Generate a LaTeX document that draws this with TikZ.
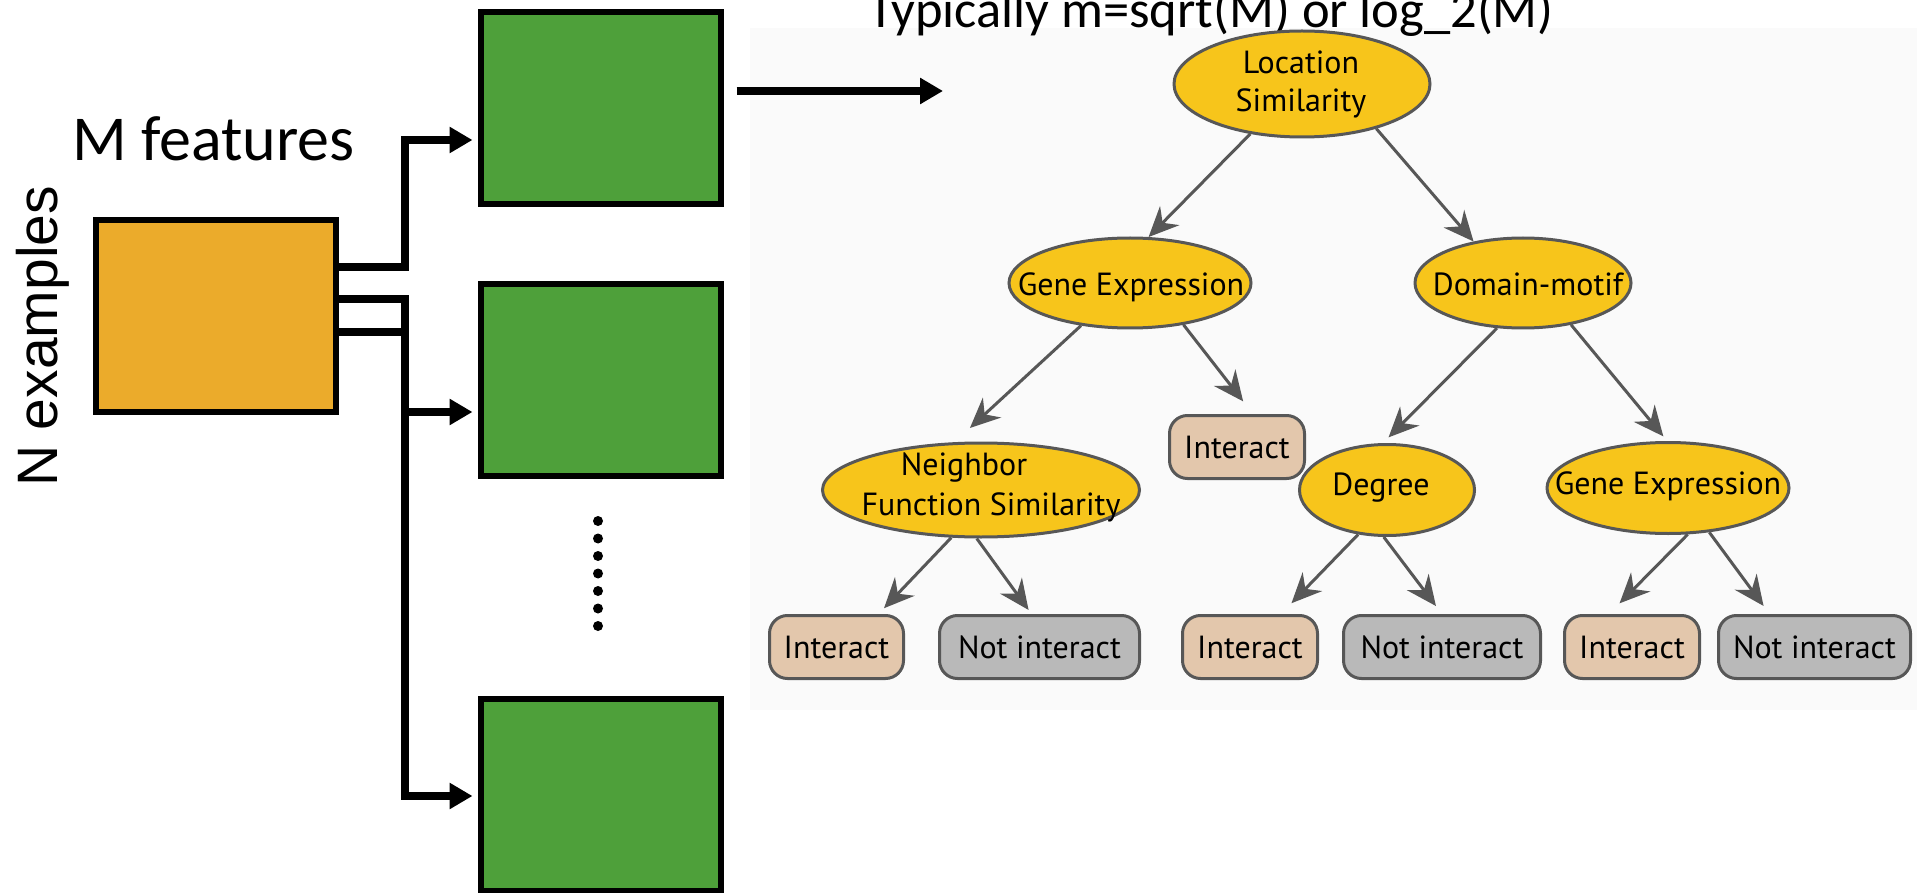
\documentclass[tikz,border=0pt]{standalone}
\usepackage{fontspec}
\usetikzlibrary{arrows.meta,shapes.geometric}
\newfontfamily\calfont{Carlito}
\newfontfamily\exfont{Liberation Sans}
\newfontfamily\treefont{PT Sans}

\definecolor{featorange}{HTML}{EBAB2B}
\definecolor{treegreen}{HTML}{4EA03A}
\definecolor{splityellow}{HTML}{F7C51B}
\definecolor{edgegrey}{HTML}{575757}
\definecolor{yesfill}{HTML}{E3C7AC}
\definecolor{nofill}{HTML}{B9B9B9}
\definecolor{panelbg}{HTML}{FAFAFA}

\begin{document}
\begin{tikzpicture}[x=1pt,y=-1pt,
  databox/.style={draw=black, line width=6pt, minimum width=240pt, minimum height=192pt, inner sep=0pt},
  conn/.style={line width=8pt, -{Triangle[length=23pt,width=25pt]}},
  split/.style={ellipse, draw=edgegrey, fill=splityellow, line width=3pt, inner sep=0pt},
  leaf/.style={rectangle, rounded corners=18pt, draw=edgegrey, line width=3pt, minimum height=63pt, inner sep=0pt,
    font=\treefont\fontsize{32pt}{38pt}\selectfont},
  yes/.style={leaf, fill=yesfill},
  no/.style={leaf, fill=nofill},
  edge/.style={draw=edgegrey, line width=3pt, -{Stealth[length=30pt,width=27pt,inset=10pt]}},
  ttext/.style={anchor=base, inner sep=0pt, font=\treefont\fontsize{32pt}{38pt}\selectfont}]

\useasboundingbox (0,0) rectangle (1917,893);

% panel behind the decision tree
\fill[panelbg] (750,28) rectangle (1917,710);

% data matrix and bootstrap samples
\node[databox, fill=featorange] (feat) at (216,316) {};
\node[databox, fill=treegreen] (t1) at (600.5,108) {};
\node[databox, fill=treegreen] (t2) at (600.5,380) {};
\node[databox, fill=treegreen] (t3) at (600.5,795) {};

\node[anchor=base west, inner sep=0pt, font=\calfont\fontsize{64pt}{72pt}\selectfont] (mlabel) at (72,161) {M features};
\node[rotate=90, anchor=base, inner sep=0pt, font=\exfont\fontsize{57pt}{66pt}\selectfont] (nlabel) at (57,336.5) {N examples};
\node[anchor=base west, inner sep=0pt, font=\calfont\fontsize{52.5pt}{60pt}\selectfont] (mtry) at (868,28) {Typically m=sqrt(M) or log\_2(M)};

% sampling connectors
\draw[conn, shorten >=5pt] (feat.east |- 0,267) -| (405,140) -- (t1.west |- 0,140);
\draw[conn, shorten >=5pt] (feat.east |- 0,299) -| (405,412) -- (t2.west |- 0,412);
\draw[conn, shorten >=5pt] (feat.east |- 0,332) -| (405,796) -- (t3.west |- 0,796);

\coordinate (tin) at (943,91);
\draw[conn, shorten <=13pt] (t1.east |- tin) -- (tin);

% vertical ellipsis between samples
\foreach \i in {0,...,6} \fill (598,{521+17.5*\i}) circle (5pt);

% decision tree: split nodes
\node[split, minimum width=256pt, minimum height=106pt] (ls) at (1302,84) {};
\node[ttext] (ls-a) at (1301,74) {Location};
\node[ttext] (ls-b) at (1301,112) {Similarity};
\node[split, minimum width=242pt, minimum height=90pt] (ge1) at (1130,283) {};
\node[ttext] (ge1-t) at (1131,296) {Gene Expression};
\node[split, minimum width=216pt, minimum height=90pt] (dm) at (1523,283) {};
\node[ttext] (dm-t) at (1528,296) {Domain-motif};
\node[split, minimum width=317pt, minimum height=94pt] (nfs) at (981,490) {};
\node[ttext] (nfs-a) at (964,475) {Neighbor};
\node[ttext] (nfs-b) at (991,515) {Function Similarity};
\node[split, minimum width=175pt, minimum height=91pt] (deg) at (1387,490) {};
\node[ttext] (deg-t) at (1381,495) {Degree};
\node[split, minimum width=242pt, minimum height=91pt] (ge2) at (1668,488) {};
\node[ttext] (ge2-t) at (1668,494) {Gene Expression};

% decision tree: leaves
\node[yes, minimum width=135pt] (i0) at (1237,447) {Interact};
\node[yes, minimum width=134pt] (i1) at (836.5,647) {Interact};
\node[no,  minimum width=200pt] (n1) at (1039.5,647) {Not interact};
\node[yes, minimum width=135pt] (i2) at (1250,647) {Interact};
\node[no,  minimum width=197pt] (n2) at (1442,647) {Not interact};
\node[yes, minimum width=135pt] (i3) at (1632,647) {Interact};
\node[no,  minimum width=192pt] (n3) at (1814.5,647) {Not interact};

% decision tree: edges
\draw[edge] (ls.224) -- (ge1.68);
\draw[edge] (ls.329) -- (dm.140);
\draw[edge, shorten >=21pt] (ge1.221) -- (nfs.119);
\draw[edge, shorten >=16pt] (ge1.322) -- ([xshift=16pt]i0.north);
\draw[edge, shorten >=8pt] (dm.240) -- (deg.95);
\draw[edge, shorten >=6pt] (dm.319) -- (ge2.91);
\draw[edge, shorten >=8pt] (nfs.238) -- ([xshift=42pt]i1.north);
\draw[edge, shorten >=5pt] (nfs.265) -- ([xshift=-8pt]n1.north);
\draw[edge, shorten >=15pt] (deg.237) -- ([xshift=31pt]i2.north);
\draw[edge, shorten >=10pt] (deg.266) -- (n2.north);
\draw[edge, shorten >=15pt] (ge2.293) -- ([xshift=-23pt]i3.north);
\draw[edge, shorten >=10pt] (ge2.313) -- ([xshift=-45pt]n3.north);

\end{tikzpicture}
\end{document}
